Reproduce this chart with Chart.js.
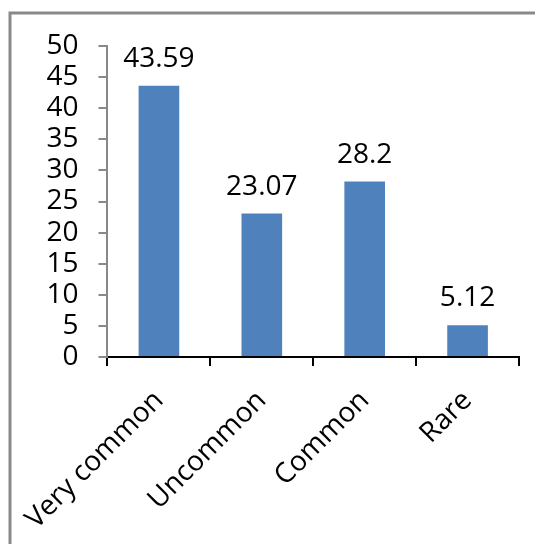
<!DOCTYPE html>
<html>
<head>
<meta charset="utf-8">
<script src="https://cdn.jsdelivr.net/npm/chart.js@4/dist/chart.umd.min.js"></script>
<style>
  html, body { margin: 0; padding: 0; background: #fff; }
  #wrap { position: relative; width: 535px; height: 544px; }
</style>
</head>
<body>
<div id="wrap"><canvas id="c" width="535" height="544"></canvas></div>
<script>
const categories = ["Very common", "Uncommon", "Common", "Rare"];
const values = [43.59, 23.07, 28.2, 5.12];
const valueLabels = ["43.59", "23.07", "28.2", "5.12"];
const yMin = 0, yMax = 50, yStep = 5;

const FONT = "'Open Sans', 'DejaVu Sans', sans-serif";

const framePlugin = {
  id: 'frame',
  beforeDraw(chart) {
    const ctx = chart.ctx;
    ctx.save();
    ctx.fillStyle = '#ffffff';
    ctx.fillRect(0, 0, chart.width, chart.height);
    ctx.strokeStyle = '#898989';
    ctx.lineWidth = 3;
    ctx.strokeRect(10, 13, 700, 700);
    ctx.restore();
  }
};

const dataLabelPlugin = {
  id: 'dataLabels',
  afterDatasetsDraw(chart) {
    const ctx = chart.ctx;
    const meta = chart.getDatasetMeta(0);
    ctx.save();
    ctx.font = "28px " + FONT;
    ctx.fillStyle = '#000';
    ctx.textAlign = 'center';
    ctx.textBaseline = 'alphabetic';
    meta.data.forEach((bar, i) => {
      ctx.fillText(valueLabels[i], bar.x, bar.y - 19);
    });
    ctx.restore();
  }
};

new Chart(document.getElementById('c'), {
  type: 'bar',
  data: {
    labels: categories,
    datasets: [{
      data: values,
      backgroundColor: '#4F81BD',
      borderColor: '#4F81BD',
      borderWidth: 0,
      barPercentage: 0.79,
      categoryPercentage: 0.5
    }]
  },
  options: {
    responsive: false,
    animation: false,
    devicePixelRatio: 1,
    layout: { padding: { top: 46, right: 16, left: 0, bottom: 0 } },
    plugins: { legend: { display: false }, tooltip: { enabled: false } },
    scales: {
      x: {
        afterFit(scale) { scale.height = 544 - 357; },
        grid: { display: true, drawOnChartArea: false, offset: true, tickLength: 9, color: '#000', lineWidth: 2 },
        border: { display: true, color: '#000', width: 2 },
        ticks: {
          maxRotation: 45, minRotation: 45,
          autoSkip: false,
          padding: 18,
          color: '#000',
          font: { family: FONT, size: 28 }
        }
      },
      y: {
        min: yMin, max: yMax,
        afterFit(scale) { scale.width = 102; },
        grid: { display: true, drawOnChartArea: false, tickLength: 9, color: '#898989', lineWidth: 2 },
        border: { display: true, color: '#898989', width: 2 },
        ticks: {
          stepSize: yStep,
          autoSkip: false,
          padding: 20,
          color: '#000',
          font: { family: FONT, size: 28 }
        }
      }
    }
  },
  plugins: [framePlugin, dataLabelPlugin]
});
</script>
</body>
</html>
